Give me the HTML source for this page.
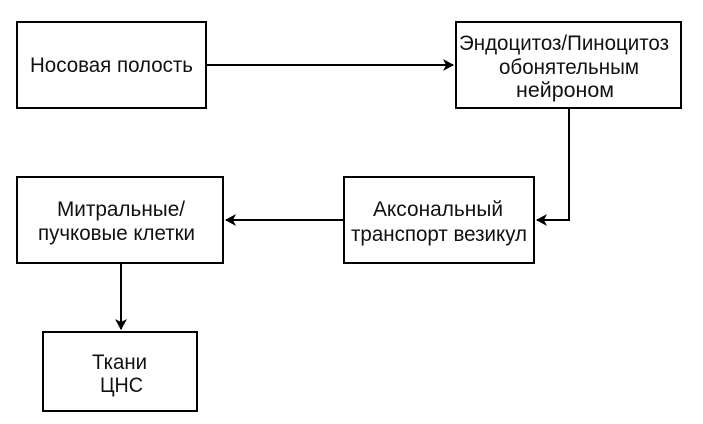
<!DOCTYPE html>
<html><head><meta charset="utf-8"><style>
html,body{margin:0;padding:0;background:#fff;width:703px;height:424px;overflow:hidden}
svg{display:block}
text{font-family:"Liberation Sans",Arial,sans-serif;font-size:21px;fill:#111;text-anchor:start}
</style></head><body>
<svg width="703" height="424" viewBox="0 0 703 424" xmlns="http://www.w3.org/2000/svg">
<defs><marker id="a" markerWidth="12" markerHeight="12" refX="10" refY="6" orient="auto" markerUnits="userSpaceOnUse"><path d="M0,0 L11,6 L0,12 L3,6 Z" fill="#000"/></marker></defs>
<g fill="none" stroke="#000" stroke-width="2">
<rect x="17" y="22" width="189" height="86"/>
<rect x="456" y="22" width="225" height="86"/>
<rect x="17" y="177" width="206" height="86"/>
<rect x="344" y="177" width="190" height="86"/>
<rect x="43" y="332" width="154" height="79"/>
<path d="M206 65 H453" marker-end="url(#a)"/>
<path d="M569 108 V220 H537" marker-end="url(#a)"/>
<path d="M344 220 H226" marker-end="url(#a)"/>
<path d="M121 263 V329" marker-end="url(#a)"/>
</g>
<text x="30" y="72" textLength="163" lengthAdjust="spacingAndGlyphs">Носовая полость</text>
<text x="459" y="50" textLength="210" lengthAdjust="spacingAndGlyphs">Эндоцитоз/Пиноцитоз</text>
<text x="499" y="74" textLength="140" lengthAdjust="spacingAndGlyphs">обонятельным</text>
<text x="516" y="97" textLength="98" lengthAdjust="spacingAndGlyphs">нейроном</text>
<text x="57" y="216" textLength="128" lengthAdjust="spacingAndGlyphs">Митральные/</text>
<text x="38" y="240" textLength="157" lengthAdjust="spacingAndGlyphs">пучковые клетки</text>
<text x="373" y="216" textLength="130" lengthAdjust="spacingAndGlyphs">Аксональный</text>
<text x="351" y="241" textLength="176" lengthAdjust="spacingAndGlyphs">транспорт везикул</text>
<text x="92" y="369" textLength="55" lengthAdjust="spacingAndGlyphs">Ткани</text>
<text x="100" y="392" textLength="43" lengthAdjust="spacingAndGlyphs">ЦНС</text>
</svg>
</body></html>
